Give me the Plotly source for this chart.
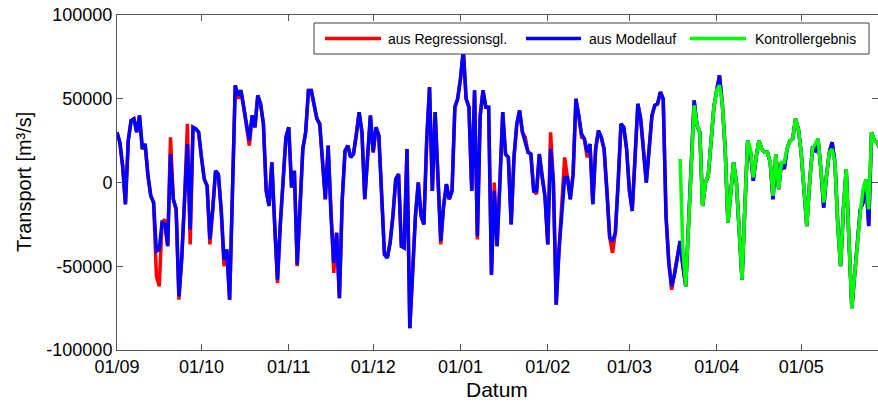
import pandas as pd
import plotly.graph_objects as go

# ---------------- data ----------------
start_date = "2003-09-01"
control_start = "2004-03-19"

regression = [
    30000, 24000, 10000, -13000, 25000, 37000, 38000, 30000, 40000, 20000,
    23000, 4000, -8000, -12000, -56000, -62000, -24000, -22000, -38000, 27000,
    -10000, -16000, -70000, -45000, -10000, 35000, -37000, 33000, 32000, 30000,
    15000, 2000, -2000, -37000, -16000, 7000, 5000, -16000, -50000, -40000,
    -70000, -5000, 58000, 50000, 55000, 45000, 35000, 22000, 40000, 33000,
    52000, 47000, 35000, -5000, -14000, 12000, -25000, -60000, -25000, 5000,
    27000, 33000, -3000, 7000, -50000, -15000, 20000, 30000, 55000, 55000,
    45000, 38000, 35000, 10000, -10000, 22000, -20000, -54000, -30000, -69000,
    -10000, 19000, 22000, 15000, 17000, 28000, 42000, 30000, -10000, 15000,
    40000, 18000, 33000, 28000, -10000, -43000, -45000, -36000, -20000, 2000,
    5000, -38000, -39000, 20000, -87000, -50000, -20000, 0, -20000, -25000,
    25000, 57000, -5000, 42000, 5000, -37000, -14000, -1000, -10000, -5000,
    45000, 50000, 62000, 79000, 50000, 45000, -5000, 55000, -34000, 40000,
    55000, 45000, 45000, -55000, 0, -38000, 0, 42000, 17000, 15000,
    -25000, 15000, 35000, 43000, 30000, 27000, 18000, 17000, -5000, -7000,
    17000, 3000, -8000, -37000, 30000, 0, -73000, -40000, -15000, 15000,
    3000, -10000, 5000, 50000, 40000, 27000, 26000, 15000, 23000, -13000,
    20000, 31000, 27000, 20000, -5000, -33000, -42000, -30000, 0, 35000,
    33000, 20000, -5000, -17000, 15000, 47000, 38000, 20000, 0, 20000,
    40000, 46000, 47000, 54000, 50000, -20000, -48000, -64000, -55000, -45000,
    -35000, -50000, -62000, -25000, 12000, 49000, 34000, 30000, -14000, 0,
    4000, 27000, 45000, 55000, 64000, 47000, 20000, -24000, -3000, 12000,
    0, -30000, -58000, -15000, 25000, 18000, 1000, 15000, 25000, 20000,
    18000, 18000, 12000, -10000, 17000, -4000, 12000, 8000, 20000, 25000,
    26000, 38000, 32000, 18000, -4000, -26000, 0, 20000, 19000, 26000,
    8000, -15000, 4000, 18000, 24000, 12000, -25000, -50000, -16000, 8000,
    -35000, -75000, -55000, -35000, -16000, -12000, 2000, -26000, 30000, 25000,
    24000, 20000,
]

model = [
    30000, 24000, 10000, -13000, 25000, 37000, 38000, 30000, 40000, 20000,
    23000, 4000, -8000, -12000, -41000, -40000, -24000, -25000, -38000, 17000,
    -10000, -16000, -68000, -45000, -10000, 23000, -28000, 33000, 32000, 30000,
    15000, 2000, -2000, -34000, -16000, 7000, 5000, -16000, -46000, -40000,
    -70000, -5000, 58000, 52000, 55000, 45000, 35000, 25000, 40000, 33000,
    52000, 47000, 35000, -5000, -14000, 12000, -25000, -58000, -25000, 5000,
    27000, 33000, -3000, 7000, -49000, -15000, 20000, 30000, 55000, 55000,
    45000, 38000, 35000, 10000, -10000, 22000, -20000, -48000, -30000, -69000,
    -10000, 19000, 22000, 15000, 17000, 28000, 42000, 30000, -10000, 15000,
    40000, 18000, 33000, 28000, -10000, -43000, -45000, -36000, -20000, 2000,
    5000, -38000, -39000, 20000, -87000, -50000, -20000, 0, -20000, -25000,
    25000, 57000, -5000, 42000, 5000, -35000, -14000, -1000, -10000, -5000,
    45000, 50000, 62000, 79000, 50000, 45000, -5000, 55000, -32000, 40000,
    55000, 45000, 45000, -55000, -5000, -38000, 0, 42000, 17000, 15000,
    -25000, 15000, 35000, 43000, 30000, 24000, 18000, 17000, -5000, -5000,
    17000, 3000, -8000, -37000, 20000, 0, -73000, -40000, -15000, 3000,
    3000, -10000, 5000, 50000, 40000, 29000, 26000, 18000, 23000, -13000,
    20000, 31000, 27000, 20000, -5000, -33000, -35000, -30000, 0, 35000,
    33000, 20000, -5000, -17000, 15000, 47000, 38000, 20000, 0, 20000,
    40000, 46000, 47000, 54000, 50000, -20000, -48000, -62000, -55000, -45000,
    -35000, -50000, -62000, -25000, 12000, 49000, 34000, 30000, -14000, 0,
    4000, 27000, 45000, 55000, 64000, 47000, 20000, -24000, -3000, 12000,
    0, -30000, -58000, -15000, 25000, 18000, 1000, 15000, 25000, 20000,
    18000, 18000, 12000, -10000, 17000, -4000, 12000, 8000, 20000, 25000,
    26000, 38000, 32000, 18000, -4000, -26000, 0, 20000, 19000, 26000,
    8000, -15000, 4000, 18000, 24000, 12000, -25000, -50000, -16000, 8000,
    -35000, -75000, -55000, -35000, -16000, -12000, 2000, -26000, 30000, 25000,
    24000, 20000,
]

control = [
    14000, -40000, -62000, -25000, 12000, 46000, 34000, 30000, -14000, 0,
    4000, 27000, 45000, 55000, 58000, 47000, 20000, -24000, -3000, 12000,
    0, -30000, -58000, -15000, 25000, 20000, 3000, 15000, 25000, 20000,
    18000, 18000, 12000, -8000, 17000, -4000, 12000, 12000, 20000, 25000,
    26000, 38000, 32000, 18000, -4000, -26000, 0, 20000, 23000, 26000,
    8000, -12000, 4000, 18000, 20000, 12000, -25000, -50000, -16000, 8000,
    -35000, -75000, -55000, -35000, -18000, -4000, 2000, -16000, 30000, 25000,
    24000, 20000,
]

series_names = ["aus Regressionsgl.", "aus Modellauf", "Kontrollergebnis"]
x_tick_dates = ["2003-09-01", "2003-10-01", "2003-11-01", "2003-12-01", "2004-01-01",
                "2004-02-01", "2004-03-01", "2004-04-01", "2004-05-01"]
x_tick_labels = ["01/09", "01/10", "01/11", "01/12", "01/01", "01/02", "01/03", "01/04", "01/05"]
y_ticks = [-100000, -50000, 0, 50000, 100000]
y_tick_labels = ["-100000", "-50000", "0", "50000", "100000"]
x_range = ["2003-09-01", "2004-05-28 07:00"]
y_range = [-100000, 100000]

# ---------------- figure ----------------
W, H = 878, 406
# plot area in window pixels: left 117, right 878, top 15, bottom 350
L, R, T, B = 117, 0, 15, 406 - 350
PW, PH = W - L - R, H - T - B

def px_x(x):
    """window pixel x -> paper coordinate"""
    return (x - L) / PW

def px_y(y):
    """window pixel y -> paper coordinate"""
    return (H - B - y) / PH

dates_main = pd.date_range(start_date, periods=len(model), freq="D")
dates_ctrl = pd.date_range(control_start, periods=len(control), freq="D")

colors = ["#FF0000", "#0000FF", "#00FF00"]
FONT = "Liberation Sans, Arial, sans-serif"
LW = 3.5

fig = go.Figure()
fig.add_trace(go.Scatter(x=dates_main, y=regression, mode="lines", name=series_names[0],
                         line=dict(color=colors[0], width=LW), showlegend=False))
fig.add_trace(go.Scatter(x=dates_main, y=model, mode="lines", name=series_names[1],
                         line=dict(color=colors[1], width=LW), showlegend=False))
fig.add_trace(go.Scatter(x=dates_ctrl, y=control, mode="lines", name=series_names[2],
                         line=dict(color=colors[2], width=LW), showlegend=False))

axis_col = "#555555"
fig.update_layout(
    width=W, height=H,
    margin=dict(l=L, r=R, t=T, b=B, autoexpand=False),
    paper_bgcolor="white", plot_bgcolor="white",
    font=dict(family=FONT, color="black", size=18),
    xaxis=dict(range=x_range, tickvals=x_tick_dates, ticktext=x_tick_labels,
               showgrid=False, zeroline=False, showline=True, linecolor=axis_col, linewidth=1,
               mirror="ticks", ticks="inside", ticklen=6, tickcolor=axis_col,
               ticklabeloverflow="allow",
               tickfont=dict(size=18, family=FONT, color="black")),
    yaxis=dict(range=y_range, tickvals=y_ticks, ticktext=y_tick_labels,
               showgrid=False, zeroline=False, showline=True, linecolor=axis_col, linewidth=1,
               mirror="ticks", ticks="inside", ticklen=6, tickcolor=axis_col,
               ticklabeloverflow="allow",
               tickfont=dict(size=18, family=FONT, color="black")),
)

# axis titles
fig.add_annotation(text="Datum", xref="paper", yref="paper", x=px_x(497), y=px_y(390),
                   xanchor="center", yanchor="middle", showarrow=False,
                   font=dict(size=21, family=FONT, color="black"))
fig.add_annotation(text="Transport [m³/s]", xref="paper", yref="paper", x=px_x(24), y=px_y(182),
                   xanchor="center", yanchor="middle", textangle=-90, showarrow=False,
                   font=dict(size=20, family=FONT, color="black"))

# custom legend (window pixel positions)
box = dict(x0=314, x1=869, y0=23, y1=54)
fig.add_shape(type="rect", xref="paper", yref="paper",
              x0=px_x(box["x0"]), x1=px_x(box["x1"]), y0=px_y(box["y1"]), y1=px_y(box["y0"]),
              line=dict(color="#404040", width=1), fillcolor="white", layer="above")
legend_items = [(325, 381, 386), (526, 581, 587), (690, 746, 753)]
ly = 38.5
for (lx0, lx1, tx), name, col in zip(legend_items, series_names, colors):
    fig.add_shape(type="line", xref="paper", yref="paper",
                  x0=px_x(lx0), x1=px_x(lx1), y0=px_y(ly), y1=px_y(ly),
                  line=dict(color=col, width=3.5), layer="above")
    fig.add_annotation(text=name, xref="paper", yref="paper", x=px_x(tx), y=px_y(ly),
                       xanchor="left", yanchor="middle", showarrow=False,
                       font=dict(size=14, family=FONT, color="black"))

# remove the default 8px page margin so the figure fills the window exactly
fig.write_html("out.html", config={"displayModeBar": False},
               post_script="document.body.style.margin='0';")
